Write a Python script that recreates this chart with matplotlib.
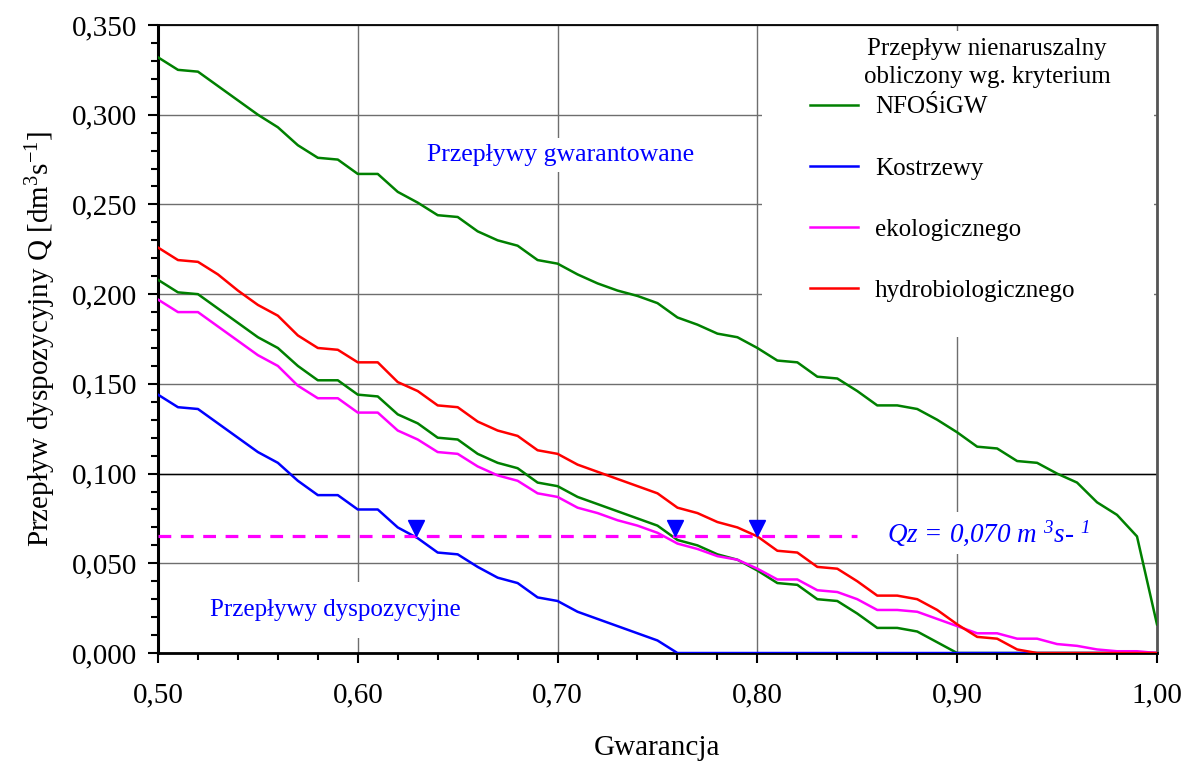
import numpy as np
import matplotlib
matplotlib.use("Agg")
import matplotlib.pyplot as plt
from matplotlib.ticker import MultipleLocator, FuncFormatter
from matplotlib.patches import Rectangle

plt.rcParams['font.family'] = ['Liberation Serif', 'DejaVu Serif']
plt.rcParams['mathtext.default'] = 'regular'

# Gwarancja (oś x)
gwarancja = [0.50, 0.51, 0.52, 0.53, 0.54, 0.55, 0.56, 0.57, 0.58, 0.59,
             0.60, 0.61, 0.62, 0.63, 0.64, 0.65, 0.66, 0.67, 0.68, 0.69,
             0.70, 0.71, 0.72, 0.73, 0.74, 0.75, 0.76, 0.77, 0.78, 0.79,
             0.80, 0.81, 0.82, 0.83, 0.84, 0.85, 0.86, 0.87, 0.88, 0.89,
             0.90, 0.91, 0.92, 0.93, 0.94, 0.95, 0.96, 0.97, 0.98, 0.99, 1.00]

# Krzywa przepływów gwarantowanych (górna zielona)
q_gwarantowany = [0.332, 0.325, 0.324, 0.316, 0.308, 0.300, 0.293, 0.283, 0.276, 0.275,
                  0.267, 0.267, 0.257, 0.251, 0.244, 0.243, 0.235, 0.230, 0.227, 0.219,
                  0.217, 0.211, 0.206, 0.202, 0.199, 0.195, 0.187, 0.183, 0.178, 0.176,
                  0.170, 0.163, 0.162, 0.154, 0.153, 0.146, 0.138, 0.138, 0.136, 0.130,
                  0.123, 0.115, 0.114, 0.107, 0.106, 0.100, 0.095, 0.084, 0.077, 0.065, 0.016]

# Przepływy dyspozycyjne wg kryteriów
q_nfosigw = [0.208, 0.201, 0.200, 0.192, 0.184, 0.176, 0.170, 0.160, 0.152, 0.152,
             0.144, 0.143, 0.133, 0.128, 0.120, 0.119, 0.111, 0.106, 0.103, 0.095,
             0.093, 0.087, 0.083, 0.079, 0.075, 0.071, 0.063, 0.060, 0.055, 0.052,
             0.046, 0.039, 0.038, 0.030, 0.029, 0.022, 0.014, 0.014, 0.012, 0.006,
             0.000, 0.000, 0.000, 0.000, 0.000, 0.000, 0.000, 0.000, 0.000, 0.000, 0.000]

q_kostrzewy = [0.144, 0.137, 0.136, 0.128, 0.120, 0.112, 0.106, 0.096, 0.088, 0.088,
               0.080, 0.080, 0.070, 0.064, 0.056, 0.055, 0.048, 0.042, 0.039, 0.031,
               0.029, 0.023, 0.019, 0.015, 0.011, 0.007, 0.000, 0.000, 0.000, 0.000,
               0.000, 0.000, 0.000, 0.000, 0.000, 0.000, 0.000, 0.000, 0.000, 0.000,
               0.000, 0.000, 0.000, 0.000, 0.000, 0.000, 0.000, 0.000, 0.000, 0.000, 0.000]

q_ekologiczny = [0.197, 0.190, 0.190, 0.182, 0.174, 0.166, 0.160, 0.149, 0.142, 0.142,
                 0.134, 0.134, 0.124, 0.119, 0.112, 0.111, 0.104, 0.099, 0.096, 0.089,
                 0.087, 0.081, 0.078, 0.074, 0.071, 0.067, 0.061, 0.058, 0.054, 0.052,
                 0.047, 0.041, 0.041, 0.035, 0.034, 0.030, 0.024, 0.024, 0.023, 0.019,
                 0.015, 0.011, 0.011, 0.008, 0.008, 0.005, 0.004, 0.002, 0.001, 0.001, 0.000]

q_hydrobiol = [0.226, 0.219, 0.218, 0.211, 0.202, 0.194, 0.188, 0.177, 0.170, 0.169,
               0.162, 0.162, 0.151, 0.146, 0.138, 0.137, 0.129, 0.124, 0.121, 0.113,
               0.111, 0.105, 0.101, 0.097, 0.093, 0.089, 0.081, 0.078, 0.073, 0.070,
               0.065, 0.057, 0.056, 0.048, 0.047, 0.040, 0.032, 0.032, 0.030, 0.024,
               0.016, 0.009, 0.008, 0.002, 0.000, 0.000, 0.000, 0.000, 0.000, 0.000, 0.000]

# Przepływ zadany Qz i punkty przecięcia
qz_poziom = 0.065
qz_zakres = [0.50, 0.85]
przeciecia_x = [0.629, 0.759, 0.800]
przeciecia_y = [0.0695, 0.0695, 0.0695]

fig = plt.figure(figsize=(11.87, 7.62), dpi=100)
ax = fig.add_axes([0.1331, 0.1430, 0.8416, 0.8242])

ax.set_xlim(0.5, 1.0)
ax.set_ylim(0.0, 0.35)

# siatka
ax.set_axisbelow(True)
ax.grid(True, which='major', color='#6e6e6e', linewidth=1.0)
ax.axhline(0.100, color='black', linewidth=1.0, zorder=0.6)

# biały prostokąt pod legendą
ax.add_patch(Rectangle((0.6046, 0.503), 0.392, 0.487, transform=ax.transAxes,
                       facecolor='white', edgecolor='none', zorder=1))

lw = 1.8
ax.plot(gwarancja, q_gwarantowany, color='#008000', linewidth=lw, zorder=3)
l1, = ax.plot(gwarancja, q_nfosigw, color='#008000', linewidth=lw, zorder=3, label='NFOŚiGW')
l2, = ax.plot(gwarancja, q_kostrzewy, color='#0000ff', linewidth=lw, zorder=3, label='Kostrzewy')
l3, = ax.plot(gwarancja, q_ekologiczny, color='#ff00ff', linewidth=lw, zorder=3, label='ekologicznego')
l4, = ax.plot(gwarancja, q_hydrobiol, color='#ff0000', linewidth=lw, zorder=3, label='hydrobiologicznego')

ax.plot(qz_zakres, [qz_poziom, qz_poziom], color='#ff00ff', linewidth=2.3,
        linestyle=(0, (4, 3)), zorder=3)
ax.plot(przeciecia_x, przeciecia_y, linestyle='none', marker='v', markersize=11,
        color='#0000ff', zorder=4)

# opisy
box = dict(facecolor='white', edgecolor='none', pad=4)
ax.text(0.7017, 0.2776, 'Przepływy gwarantowane', color='#0000ff', fontsize=18.5,
        ha='center', va='center', bbox=box, zorder=2)
ax.text(0.5886, 0.024, 'Przepływy dyspozycyjne', color='#0000ff', fontsize=18,
        ha='center', va='center', bbox=dict(facecolor='white', edgecolor='none', pad=12), zorder=2)
ax.text(0.9154, 0.0669, r'Qz = 0,070 m $^{3}$s- $^{1}$', color='#0000ff', fontsize=19.5,
        fontstyle='italic', ha='center', va='center', bbox=box, zorder=2)

ax.text(0.830, 0.939, 'Przepływ nienaruszalny\nobliczony wg. kryterium', transform=ax.transAxes,
        fontsize=18, ha='center', va='center', linespacing=1.35, zorder=6)
ax.legend(handles=[l1, l2, l3, l4], loc='center left', bbox_to_anchor=(0.6527, 0.7230),
          frameon=False, fontsize=18, labelspacing=1.55, handlelength=1.9,
          handletextpad=0.7, borderaxespad=0, borderpad=0)

# osie
ax.xaxis.set_major_locator(MultipleLocator(0.1))
ax.xaxis.set_minor_locator(MultipleLocator(0.02))
ax.yaxis.set_major_locator(MultipleLocator(0.05))
ax.yaxis.set_minor_locator(MultipleLocator(0.01))
ax.xaxis.set_major_formatter(FuncFormatter(lambda v, p: f'{v:.2f}'.replace('.', ',')))
ax.yaxis.set_major_formatter(FuncFormatter(lambda v, p: f'{v:.3f}'.replace('.', ',')))
ax.tick_params(which='both', direction='out', width=1.5, labelsize=21, colors='black')
ax.tick_params(which='major', length=7)
ax.tick_params(which='minor', length=5)
ax.tick_params(axis='x', which='major', pad=14)
ax.tick_params(axis='y', which='major', pad=8)

ax.spines['left'].set_linewidth(2.2)
ax.spines['bottom'].set_linewidth(2.0)
ax.spines['top'].set_linewidth(1.3)
ax.spines['right'].set_linewidth(2.0)
ax.spines['right'].set_color('#555555')

ax.set_xlabel('Gwarancja', fontsize=21, labelpad=19)
ax.set_ylabel('Przepływ dyspozycyjny Q [dm$^3$s$^{-1}$]', fontsize=21, labelpad=10)

fig.savefig('out.png', dpi=100)
